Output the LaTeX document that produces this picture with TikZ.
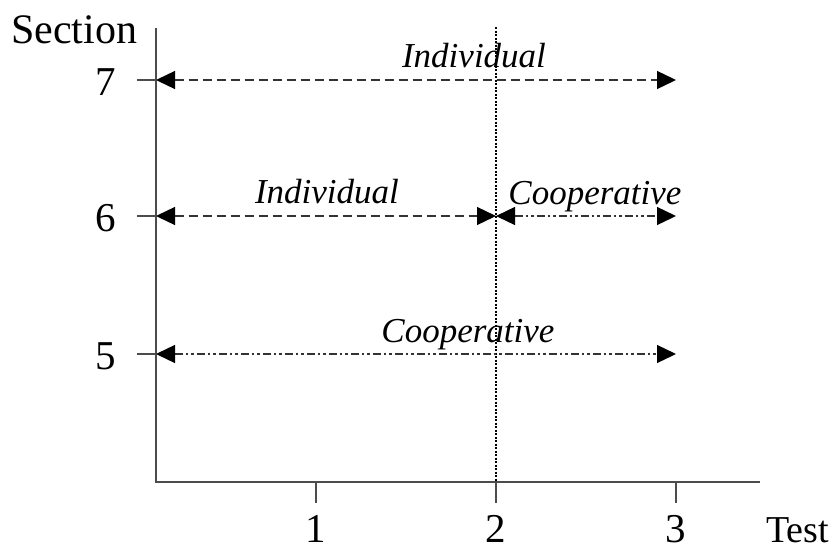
\documentclass[tikz,border=0pt]{standalone}
\usepackage{fontspec}
\setmainfont{Liberation Serif}
\usetikzlibrary{arrows.meta}
\begin{document}
\begin{tikzpicture}[x=1pt,y=-1pt,
  axisline/.style={draw=black!70,line width=1.2pt},
  bigtxt/.style={inner sep=0pt,anchor=base,font=\fontsize{41}{41}\selectfont},
  lbl/.style={inner sep=0pt,anchor=base,font=\fontsize{35}{35}\selectfont\itshape},
  dblarrow/.style={draw=black!80,line width=1.3pt,{Triangle[length=19pt,width=18pt,fill=black,color=black]}-{Triangle[length=19pt,width=18pt,fill=black,color=black]}},
  dashline/.style={dblarrow,dash pattern=on 9pt off 5pt},
  ddotline/.style={dblarrow,dash pattern=on 8pt off 3pt on 2.5pt off 3pt on 2.5pt off 3pt},
  divline/.style={draw=black,line width=2pt,dash pattern=on 2pt off 1.5pt}]
\useasboundingbox (0,0) rectangle (840,552);
% axes
\coordinate (otop) at (156,28);
\coordinate (o) at (156,482);
\coordinate (xend) at (760,482);
\draw[axisline] (otop) -- (o) -- (xend);
% x ticks
\foreach \n/\x in {1/316,2/496,3/676}{
  \coordinate (xt\n) at (\x,482);
  \coordinate (xb\n) at (\x,503);
  \draw[axisline] (xt\n) -- (xb\n);
  \node[bigtxt] (xl\n) at (\x,542) {\n};
}
% y ticks
\foreach \n/\y in {7/80,6/216,5/354}{
  \coordinate (yl\n) at (137,\y);
  \coordinate (yr\n) at (156,\y);
  \draw[axisline] (yl\n) -- (yr\n);
  \node[bigtxt] (ylab\n) at (106,\y+15) {\n};
}
\node[bigtxt,anchor=base west,font=\fontsize{42}{42}\selectfont] (sect) at (11,43) {Section};
\node[bigtxt,anchor=base west,font=\fontsize{38}{38}\selectfont] (test) at (766,542) {Test};
% divider
\coordinate (dtop) at (496,27);
\draw[divline] (dtop) -- (xt2);
% arrows
\coordinate (a7l) at (156,80);
\coordinate (a7r) at (676,80);
\coordinate (a6l) at (156,216);
\coordinate (a6m) at (496,216);
\coordinate (a6r) at (676,216);
\coordinate (a5l) at (156,354);
\coordinate (a5r) at (676,354);
\draw[dashline] (a7l) -- (a7r);
\draw[dashline] (a6l) -- (a6m);
\draw[ddotline] (a6m) -- (a6r);
\draw[ddotline] (a5l) -- (a5r);
% labels
\node[lbl] (ind7) at (474,67) {Individual};
\node[lbl] (ind6) at (327,203) {Individual};
\node[lbl] (coop6) at (595,204) {Cooperative};
\node[lbl] (coop5) at (468,342) {Cooperative};
\end{tikzpicture}
\end{document}
